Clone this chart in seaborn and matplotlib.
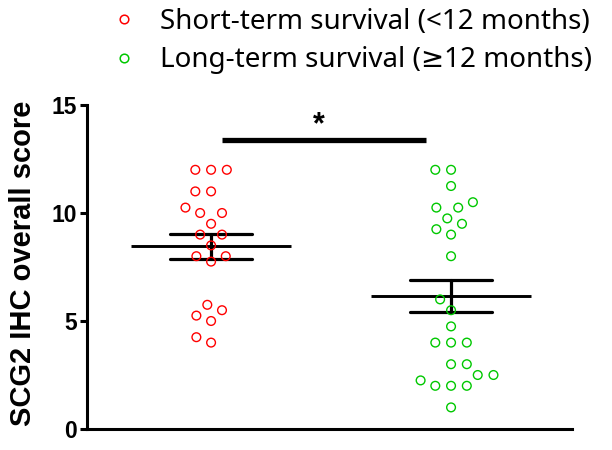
import numpy as np
import pandas as pd
import matplotlib
matplotlib.use("Agg")
import matplotlib.pyplot as plt
from matplotlib.lines import Line2D
from matplotlib.path import Path
import seaborn as sns

# SCG2 IHC overall score per patient, by survival group
short_term = [12, 12, 12, 11, 11, 10.25, 10, 10, 9.5, 9, 9, 8.5, 8, 8, 7.75,
              5.75, 5.5, 5.25, 5, 4.25, 4]
long_term = [12, 12, 11.25, 10.5, 10.25, 10.25, 9.75, 9.5, 9.25, 9, 8, 6, 5.5,
             4.75, 4, 4, 4, 3, 3, 2.5, 2.5, 2.25, 2, 2, 2, 1]
groups = ["Short-term survival (<12 months)", "Long-term survival (\u226512 months)"]
colors = ["#ff0000", "#00c800"]
y_ticks = [0, 5, 10, 15]
y_label = "SCG2 IHC overall score"
sig_label = "*"

df = pd.DataFrame({
    "group": [groups[0]] * len(short_term) + [groups[1]] * len(long_term),
    "score": short_term + long_term,
})

sns.set_theme(style="white")
plt.rcParams["font.family"] = ["Liberation Sans", "DejaVu Sans"]
plt.rcParams["text.color"] = "black"

fig = plt.figure(figsize=(6.12, 4.5), dpi=100)
ax = fig.add_axes([87 / 612, 21 / 450, 485 / 612, 324 / 450])

# scattered points (swarm spacing wider than the drawn rings)
sns.swarmplot(data=df, x="group", y="score", hue="group", palette=colors,
              order=groups, size=9.8, linewidth=1.0, legend=False, ax=ax)
ring = Path.circle((0, 0), radius=0.32)
for coll, c in zip(ax.collections[:2], colors):
    coll.set_paths([ring])
    coll.set_facecolor("none")
    coll.set_edgecolor(c)
    coll.set_linewidth(1.0)

# mean line with SEM whiskers
sns.pointplot(data=df, x="group", y="score", order=groups, color="black",
              errorbar="se", capsize=0.34, linestyle="none", marker="_",
              markersize=115, markeredgewidth=2.1,
              err_kws={"linewidth": 2.3}, ax=ax)

ax.set_xlim(-0.517, 1.504)
ax.set_ylim(0, 15)
ax.set_yticks(y_ticks)
ax.set_xticks([])
ax.set_xlabel("")
ax.set_ylabel(y_label, fontsize=21, fontweight="bold", color="black")
ax.yaxis.set_label_coords(-0.104, 0.51)
for side in ["top", "right"]:
    ax.spines[side].set_visible(False)
for side in ["left", "bottom"]:
    ax.spines[side].set_linewidth(2.2)
    ax.spines[side].set_color("black")
ax.tick_params(axis="y", direction="out", length=5, width=2.2, color="black",
               pad=2, labelsize=16.5, labelcolor="black", left=True)
for lbl in ax.get_yticklabels():
    lbl.set_fontweight("bold")

# significance bracket
ax.plot([0.045, 0.896], [13.39, 13.39], color="black", lw=3.8,
        solid_capstyle="butt", clip_on=False)
ax.text(0.45, 14.05, sig_label, ha="center", va="center", fontsize=22,
        fontweight="bold", color="black")

handles = [Line2D([], [], linestyle="none", marker="o", markersize=6.2,
                  markerfacecolor="none", markeredgecolor=c, markeredgewidth=1.1)
           for c in colors]
leg = fig.legend(handles, groups, loc="upper left",
                 bbox_to_anchor=(107 / 612, 1 - 5 / 450),
                 frameon=False, handlelength=1.0, handletextpad=0.8,
                 labelspacing=0.38, borderpad=0.1, borderaxespad=0,
                 prop={"family": ["Noto Sans", "DejaVu Sans"], "size": 20})
for t in leg.get_texts():
    t.set_color("black")

fig.savefig("out.png", dpi=100, facecolor="white")
